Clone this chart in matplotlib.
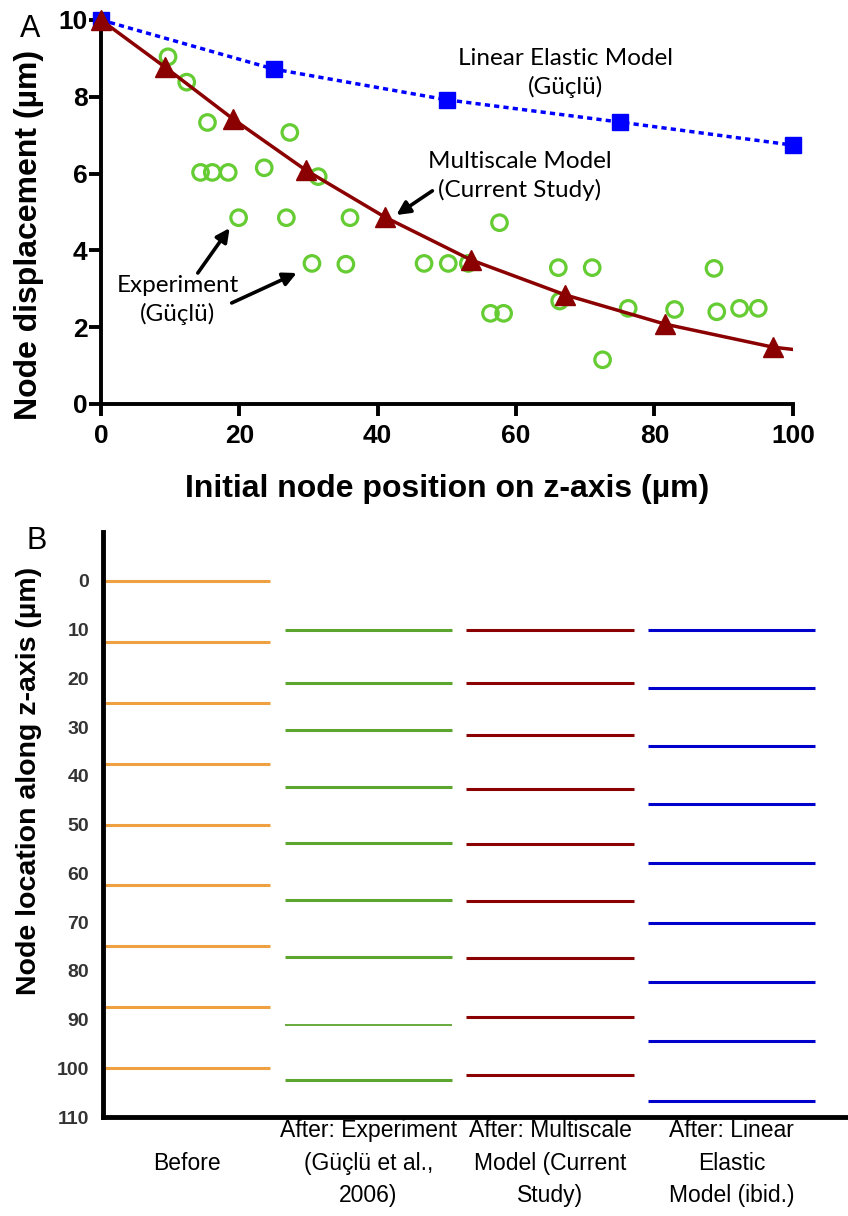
import matplotlib
matplotlib.use('Agg')
import matplotlib.pyplot as plt
import matplotlib.transforms as mtransforms

# ---- panel A data ----
linear_x = [0, 25, 50, 75, 100]
linear_y = [10.0, 8.72, 7.92, 7.34, 6.74]

multi_x = [0, 9.2, 19.1, 29.6, 41.0, 53.5, 67.1, 81.5, 97.1]
multi_y = [10.0, 8.78, 7.42, 6.09, 4.87, 3.75, 2.84, 2.08, 1.48]
multi_line_x = multi_x + [100]
multi_line_y = multi_y + [1.42]

exp_x = [9.7, 12.4, 15.4, 27.3, 14.4, 16.1, 18.4, 23.6, 31.4, 19.9, 26.8, 36.0,
         30.5, 35.4, 46.7, 50.2, 53.1, 57.6, 56.3, 58.2, 66.1, 71.0, 66.3, 72.5,
         76.2, 82.9, 88.6, 89.0, 92.3, 95.0]
exp_y = [9.04, 8.38, 7.33, 7.07, 6.03, 6.03, 6.03, 6.15, 5.92, 4.85, 4.85, 4.85,
         3.66, 3.64, 3.66, 3.66, 3.66, 4.72, 2.36, 2.36, 3.55, 3.55, 2.68, 1.15,
         2.49, 2.46, 3.53, 2.40, 2.49, 2.49]

# ---- panel B data ----
before = [0, 12.5, 25, 37.5, 50, 62.5, 75, 87.5, 100]
after_exp = [10.1, 20.9, 30.6, 42.3, 53.7, 65.5, 77.1, 91.1, 102.5]
after_multi = [10.1, 20.9, 31.7, 42.8, 54.0, 65.6, 77.4, 89.4, 101.4]
after_linear = [10.1, 21.9, 33.8, 45.8, 57.9, 70.1, 82.3, 94.5, 106.7]
columns = [before, after_exp, after_multi, after_linear]
col_colors = ['#EFA040', '#5CA52E', '#8B0000', '#0000CC']
col_labels = ['Before', 'After: Experiment\n(Güçlü et al.,\n2006)',
              'After: Multiscale\nModel (Current\nStudy)',
              'After: Linear\nElastic\nModel (ibid.)']
y_ticks_b = list(range(0, 111, 10))

plt.rcParams['font.family'] = ['Liberation Sans', 'DejaVu Sans']

fig = plt.figure(figsize=(8.48, 12.16), dpi=100)

# ================= panel A =================
ax = fig.add_axes([0.119, 0.6678, 0.816, 0.3158])
ax.plot(linear_x, linear_y, color='#0000FF', ls=(0, (1.5, 1.2)), lw=2.5,
        marker='s', ms=11, clip_on=False, zorder=3)
ax.scatter(exp_x, exp_y, s=125, facecolors='none', edgecolors='#66CC33',
           linewidths=2.3, zorder=2)
ax.plot(multi_line_x, multi_line_y, color='#8B0000', lw=2.5, zorder=4)
ax.plot(multi_x, multi_y, color='#8B0000', ls='none', marker='^', ms=14,
        clip_on=False, zorder=5)

ax.set_xlim(0, 100)
ax.set_ylim(0, 10)
ax.set_xticks([0, 20, 40, 60, 80, 100])
ax.set_yticks([0, 2, 4, 6, 8, 10])
for s in ['top', 'right']:
    ax.spines[s].set_visible(False)
for s in ['left', 'bottom']:
    ax.spines[s].set_linewidth(2.8)
ax.tick_params(width=2.8, length=8.5, labelsize=19)
ax.tick_params(axis='x', pad=6)
ax.tick_params(axis='y', pad=1)
for lab in ax.get_xticklabels() + ax.get_yticklabels():
    lab.set_fontweight('bold')
ax.set_xlabel('Initial node position on z-axis (µm)', fontsize=23,
              fontweight='bold', labelpad=19)
ax.set_ylabel('Node displacement (µm)', fontsize=23, fontweight='bold',
              va='center')
ax.yaxis.set_label_coords(-0.104, 0.441)

ann_font = dict(family=['Lato', 'DejaVu Sans'], fontsize=17.5)
ax.text(67.1, 8.62, 'Linear Elastic Model\n(Güçlü)', ha='center', va='center',
        linespacing=1.42, **ann_font)
ax.text(60.5, 5.94, 'Multiscale Model\n(Current Study)', ha='center',
        va='center', linespacing=1.42, **ann_font)
ax.text(11.1, 2.71, 'Experiment\n(Güçlü)', ha='center', va='center',
        linespacing=1.42, **ann_font)
arrow = dict(arrowstyle='-|>', color='black', lw=2.6, mutation_scale=20,
             shrinkA=0, shrinkB=0)
ax.annotate('', xy=(42.7, 4.92), xytext=(47.9, 5.55), arrowprops=arrow)
ax.annotate('', xy=(18.6, 4.58), xytext=(14.0, 3.41), arrowprops=arrow)
ax.annotate('', xy=(28.3, 3.41), xytext=(18.9, 2.63), arrowprops=arrow)

fig.text(0.023, 0.9885, 'A', fontsize=22, va='top')

# ================= panel B =================
bx = fig.add_axes([0.1215, 0.0814, 0.8785, 0.481])
for i, (vals, c) in enumerate(zip(columns, col_colors)):
    x0 = i + 0.01 if i == 0 else i
    for j, v in enumerate(vals):
        lw = 2.2
        if i == 1 and j == 7:
            lw = 1.3
        bx.hlines(v, x0, i + 0.92, color=c, lw=lw)

bx.set_xlim(0, 4.1)
bx.set_ylim(110, -10)
bx.set_yticks(y_ticks_b)
bx.set_xticks([])
for s in ['top', 'right']:
    bx.spines[s].set_visible(False)
for s in ['left', 'bottom']:
    bx.spines[s].set_linewidth(3.5)
bx.tick_params(axis='y', length=0, pad=10, labelsize=14, labelcolor='#333333')
for lab in bx.get_yticklabels():
    lab.set_fontweight('bold')
bx.set_ylabel('Node location along z-axis (µm)', fontsize=20.5,
              fontweight='bold', va='center')
bx.yaxis.set_label_coords(-0.1, 0.574)

trans = mtransforms.blended_transform_factory(bx.transData, bx.transAxes)
for i, lab in enumerate(col_labels):
    bx.text(i + 0.46, -0.079, lab, transform=trans, ha='center', va='center',
            fontsize=16.5, linespacing=1.52,
            family=['Liberation Sans Narrow', 'Liberation Sans'])

fig.text(0.031, 0.555, 'B', fontsize=22, va='center')

fig.savefig('out.png', dpi=100)
